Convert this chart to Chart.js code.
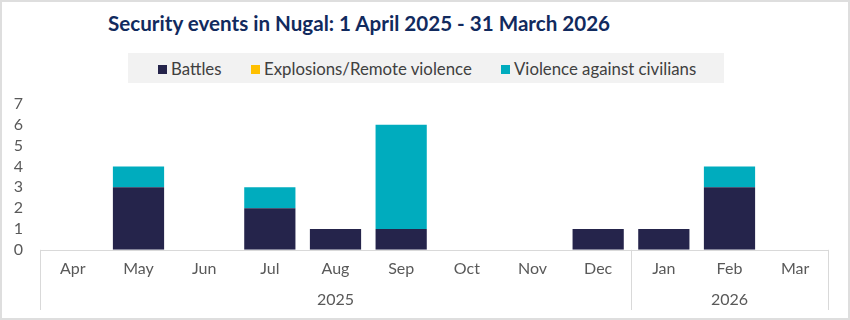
<!DOCTYPE html>
<html>
<head>
<meta charset="utf-8">
<script src="https://cdn.jsdelivr.net/npm/chart.js@4"></script>
<style>
  html, body { margin: 0; padding: 0; background: #fff; }
  #frame { position: relative; width: 850px; height: 320px; box-sizing: border-box; border: 2px solid #dedede; overflow: hidden; font-family: Lato, "Open Sans", sans-serif; }
  #title { position: absolute; left: 106px; top: 9px; font-size: 20.6px; font-weight: bold; color: #112a5e; white-space: nowrap; }
  #legend { position: absolute; left: 126px; top: 51px; width: 596px; height: 30px; background: #f2f2f2; }
  .item { position: absolute; top: 5px; font-size: 16.8px; color: #404040; white-space: nowrap; }
  .item span { display: inline-block; width: 9px; height: 9px; margin-right: 4px; vertical-align: 1px; }
  canvas { position: absolute; left: -2px; top: -2px; }
</style>
</head>
<body>
<div id="frame">
  <div id="title">Security events in Nugal: 1 April 2025 - 31 March 2026</div>
  <div id="legend"></div>
  <canvas id="graph" width="850" height="320"></canvas>
</div>
<script>
var months = ["Apr", "May", "Jun", "Jul", "Aug", "Sep", "Oct", "Nov", "Dec", "Jan", "Feb", "Mar"];
var years = ["2025", "2026"];
var yearCounts = [9, 3];
var seriesNames = ["Battles", "Explosions/Remote violence", "Violence against civilians"];
var seriesColors = ["#25244b", "#ffc000", "#00acbe"];
var battles = [0, 3, 0, 2, 1, 1, 0, 0, 1, 1, 3, 0];
var explosions = [0, 0, 0, 0, 0, 0, 0, 0, 0, 0, 0, 0];
var civilians = [0, 1, 0, 1, 0, 5, 0, 0, 0, 0, 1, 0];
var yMax = 7;

// html legend
var legend = document.getElementById("legend");
var legendLeft = [30, 123, 373];
for (var i = 0; i < seriesNames.length; i++) {
  var d = document.createElement("div");
  d.className = "item";
  d.style.left = legendLeft[i] + "px";
  d.innerHTML = '<span style="background:' + seriesColors[i] + '"></span>' + seriesNames[i];
  legend.appendChild(d);
}

// draws axis line, group separators and year labels
var groupAxis = {
  id: "groupAxis",
  afterDraw: function(chart) {
    var ctx = chart.ctx;
    var area = chart.chartArea;
    var x = chart.scales.x;
    var half = (x.getPixelForValue(1) - x.getPixelForValue(0)) / 2;
    var lineBottom = 310;
    ctx.save();
    ctx.strokeStyle = "#d9d9d9";
    ctx.lineWidth = 1;
    ctx.beginPath();
    ctx.moveTo(area.left, Math.round(area.bottom) + 0.5);
    ctx.lineTo(area.right, Math.round(area.bottom) + 0.5);
    var start = 0;
    var edges = [area.left];
    for (var g = 0; g < yearCounts.length; g++) {
      start += yearCounts[g];
      edges.push(x.getPixelForValue(start - 1) + half);
    }
    for (var e = 0; e < edges.length; e++) {
      var px = Math.round(edges[e]) + 0.5;
      ctx.moveTo(px, area.bottom);
      ctx.lineTo(px, lineBottom);
    }
    ctx.stroke();
    ctx.fillStyle = "#595959";
    ctx.font = "16px Lato";
    ctx.textAlign = "center";
    ctx.textBaseline = "middle";
    for (var k = 0; k < years.length; k++) {
      ctx.fillText(years[k], (edges[k] + edges[k + 1]) / 2, 300);
    }
    ctx.restore();
  }
};

var graph = document.getElementById("graph");
var myChart = new Chart(graph, {
  type: "bar",
  data: {
    labels: months,
    datasets: [
      { label: seriesNames[0], data: battles, backgroundColor: seriesColors[0] },
      { label: seriesNames[1], data: explosions, backgroundColor: seriesColors[1] },
      { label: seriesNames[2], data: civilians, backgroundColor: seriesColors[2] }
    ]
  },
  options: {
    responsive: false,
    animation: false,
    layout: { padding: { left: 12, right: 22, top: 104, bottom: 41 } },
    datasets: { bar: { categoryPercentage: 1, barPercentage: 0.78 } },
    plugins: { legend: { display: false }, tooltip: { enabled: false } },
    scales: {
      x: {
        stacked: true,
        grid: { display: false },
        border: { display: false },
        ticks: { color: "#595959", font: { family: "Lato", size: 16 }, padding: 1 }
      },
      y: {
        stacked: true,
        min: 0,
        max: yMax,
        afterFit: function(s) { s.width = 28; },
        grid: { display: false, drawTicks: false },
        border: { display: false },
        ticks: { stepSize: 1, autoSkip: false, color: "#595959", font: { family: "Lato", size: 16 }, padding: 17 }
      }
    }
  },
  plugins: [groupAxis]
});
</script>
</body>
</html>
